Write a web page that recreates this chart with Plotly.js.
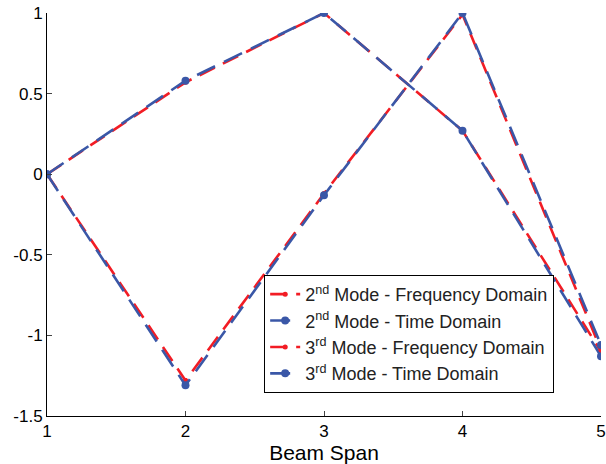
<!DOCTYPE html>
<html>
<head>
<meta charset="utf-8">
<script src="https://cdn.plot.ly/plotly-3.0.1.min.js"></script>
<style>html,body{margin:0;padding:0;background:#fff;}#chart{width:606px;height:464px;}</style>
</head>
<body>
<div id="chart"></div>
<script>
var beamSpan = [1, 2, 3, 4, 5];
var mode2Freq = [0, 0.57, 1, 0.27, -1.10];
var mode2Time = [0, 0.58, 1, 0.27, -1.13];
var mode3Freq = [0, -1.28, -0.12, 0.99, -1.09];
var mode3Time = [0, -1.31, -0.13, 1, -1.06];
var seriesNames = [
  "2<sup>nd</sup> Mode - Frequency Domain",
  "2<sup>nd</sup> Mode - Time Domain",
  "3<sup>rd</sup> Mode - Frequency Domain",
  "3<sup>rd</sup> Mode - Time Domain"
];
var yTicks = [-1.5, -1, -0.5, 0, 0.5, 1];
var yTickText = ["-1.5", "-1", "-0.5", "0", "0.5", "1"];

var red = "#f21c24";
var blue = "#3a57a7";
function tr(y, name, color, msize, dash) {
  return {x: beamSpan, y: y, name: name, type: "scatter", mode: "lines+markers",
    line: {color: color, width: 2.6, dash: dash},
    marker: {color: color, size: msize, symbol: "circle"}};
}
var data = [
  tr(mode2Freq, seriesNames[0], red, 5, "17px,9px"),
  tr(mode2Time, seriesNames[1], blue, 8, "20px,10px"),
  tr(mode3Freq, seriesNames[2], red, 5, "17px,9px"),
  tr(mode3Time, seriesNames[3], blue, 8, "20px,10px")
];
var layout = {
  width: 606, height: 464,
  margin: {l: 47, r: 5, t: 13, b: 48},
  paper_bgcolor: "#fff", plot_bgcolor: "#fff",
  font: {family: "Liberation Sans, Arial, sans-serif", size: 17, color: "#000"},
  showlegend: true,
  legend: {x: 0.392, y: 0.35, xanchor: "left", yanchor: "top",
    bordercolor: "#000", borderwidth: 1, bgcolor: "#fff", itemwidth: 30,
    font: {size: 18, color: "#222"}, tracegroupgap: 0},
  xaxis: {range: [1, 5], tickvals: beamSpan, ticks: "inside", ticklen: 5,
    showline: true, linecolor: "#000", linewidth: 1, showgrid: false, zeroline: false,
    mirror: false, tickfont: {size: 17},
    title: {text: "Beam Span", font: {size: 21}, standoff: 2}},
  yaxis: {range: [-1.5, 1], tickvals: yTicks, ticktext: yTickText, ticks: "inside", ticklen: 5,
    showline: true, linecolor: "#000", linewidth: 1, showgrid: false, zeroline: false,
    tickfont: {size: 17}}
};
Plotly.newPlot("chart", data, layout, {displayModeBar: false, staticPlot: true});
</script>
</body>
</html>
